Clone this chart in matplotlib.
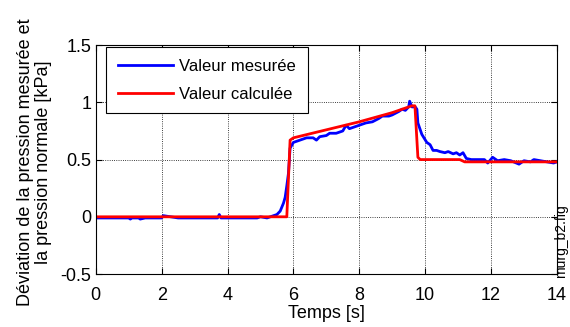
import numpy as np
import matplotlib.pyplot as plt

plt.rcParams['font.family'] = ['Liberation Sans', 'DejaVu Sans']

# Valeur mesurée (blue)
t_mes = [0.0, 0.5, 1.0, 1.05, 1.1, 1.3, 1.35, 1.5, 2.0, 2.05, 2.5, 3.0, 3.5, 3.7, 3.75, 3.8,
         4.0, 4.5, 4.9, 5.0, 5.2, 5.3, 5.4, 5.5, 5.6, 5.7, 5.75, 5.8, 5.85, 5.9, 6.0,
         6.2, 6.4, 6.6, 6.7, 6.8, 7.0, 7.1, 7.3, 7.5, 7.6, 7.7, 7.9, 8.0, 8.2, 8.4, 8.6,
         8.7, 8.9, 9.0, 9.2, 9.3, 9.4, 9.5, 9.53, 9.6, 9.7, 9.75, 9.78, 9.9, 10.05,
         10.15, 10.24, 10.35, 10.45, 10.6, 10.7, 10.85, 10.95, 11.05, 11.15, 11.25,
         11.4, 11.6, 11.8, 11.9, 12.05, 12.2, 12.4, 12.6, 12.85, 13.0, 13.2, 13.3,
         13.5, 13.7, 13.9, 14.0]
v_mes = [-0.01, -0.01, -0.01, -0.02, -0.01, -0.01, -0.02, -0.01, -0.01, 0.01, -0.01, -0.01,
         -0.01, -0.01, 0.02, -0.01, -0.01, -0.01, -0.01, 0.0, -0.01, 0.0, 0.01, 0.02,
         0.05, 0.12, 0.17, 0.27, 0.38, 0.60, 0.65, 0.67, 0.69, 0.69, 0.67, 0.70, 0.71,
         0.73, 0.73, 0.75, 0.80, 0.77, 0.79, 0.80, 0.82, 0.83, 0.86, 0.88, 0.88, 0.89,
         0.92, 0.94, 0.93, 0.96, 1.01, 0.96, 0.96, 0.94, 0.82, 0.72, 0.65, 0.63, 0.58,
         0.58, 0.57, 0.56, 0.57, 0.55, 0.56, 0.54, 0.56, 0.51, 0.50, 0.50, 0.50, 0.47,
         0.52, 0.49, 0.50, 0.49, 0.46, 0.49, 0.48, 0.50, 0.49, 0.48, 0.47, 0.48]

# Valeur calculée (red)
t_cal = [0.0, 5.8, 5.9, 6.0, 7.0, 8.0, 9.0, 9.6, 9.69, 9.78, 9.85, 11.05, 11.2, 14.0]
v_cal = [0.0, 0.0, 0.67, 0.69, 0.76, 0.83, 0.91, 0.97, 0.97, 0.52, 0.50, 0.50, 0.48, 0.48]

fig = plt.figure(figsize=(5.7, 3.27), dpi=100)
ax = fig.add_axes([0.168, 0.162, 0.809, 0.700])

ax.plot(t_mes, v_mes, color='blue', lw=2, label='Valeur mesurée')
ax.plot(t_cal, v_cal, color='red', lw=2, label='Valeur calculée')

ax.set_xlim(0, 14)
ax.set_ylim(-0.5, 1.5)
ax.set_xticks(np.arange(0, 15, 2))
ax.set_yticks([-0.5, 0, 0.5, 1, 1.5])
ax.set_yticklabels(['-0.5', '0', '0.5', '1', '1.5'])
ax.tick_params(direction='in', labelsize=13, length=4, top=True, right=True, pad=3)
ax.tick_params(axis='x', pad=9)
ax.grid(True, color='black', linestyle=':', lw=0.6)

ax.set_xlabel('Temps [s]', fontsize=13, labelpad=1)
ax.set_ylabel('Déviation de la pression mesurée et\nla pression normale [kPa]', fontsize=13,
              linespacing=1.1)
ax.yaxis.set_label_coords(-0.095, 0.49)

leg = ax.legend(loc='upper left', bbox_to_anchor=(0.022, 0.99), fontsize=12,
                fancybox=False, framealpha=1, edgecolor='black', borderaxespad=0,
                handlelength=3.35, handletextpad=0.35, borderpad=0.7, labelspacing=0.75)
leg.get_frame().set_linewidth(0.8)

fig.text(0.984, 0.15, 'murg_b2.fig', rotation=90, fontsize=10, ha='center', va='bottom')

fig.savefig('out.png')
